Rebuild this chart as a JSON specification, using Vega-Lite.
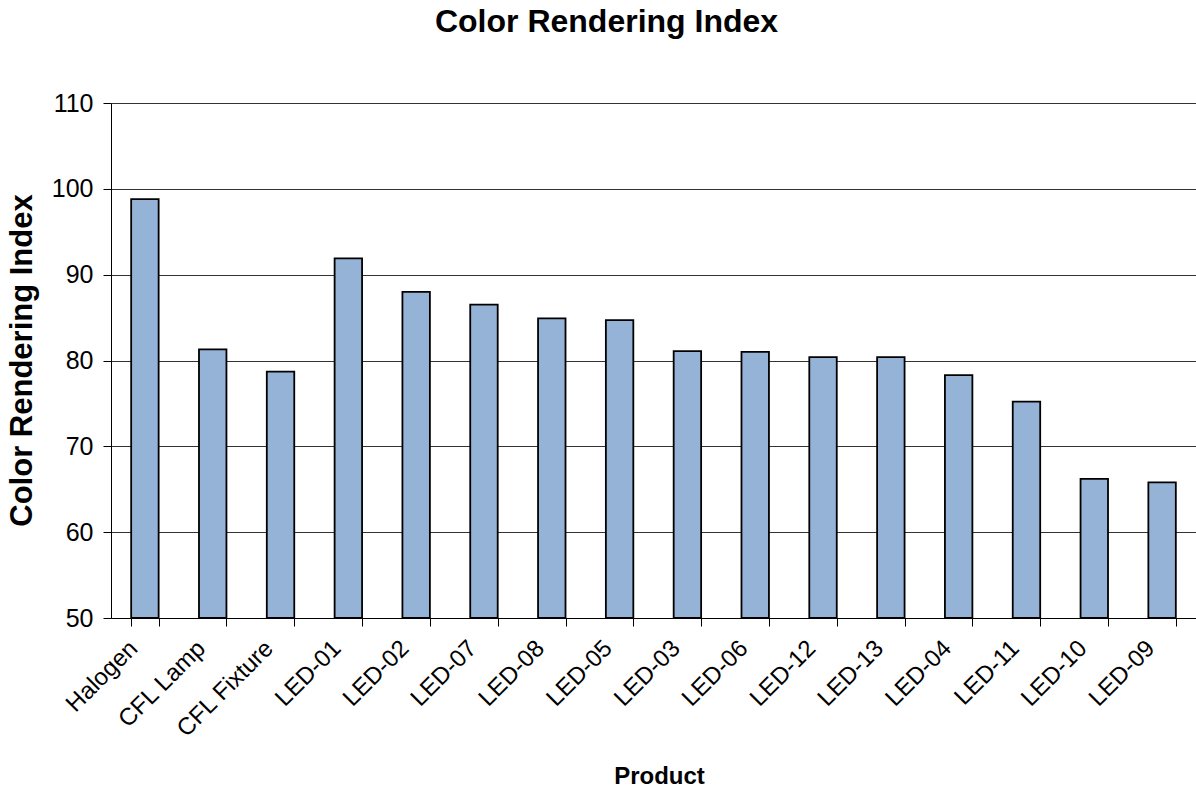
{
  "$schema": "https://vega.github.io/schema/vega-lite/v6.json",
  "width": 1085,
  "height": 515,
  "autosize": "none",
  "padding": {"left": 111, "top": 103, "right": 0, "bottom": 173},
  "background": "white",
  "config": {
    "font": "Liberation Sans",
    "view": {"stroke": null}
  },
  "title": {
    "text": "Color Rendering Index",
    "font": "Liberation Sans",
    "fontSize": 32,
    "fontWeight": "bold",
    "color": "black",
    "anchor": "middle",
    "frame": "group",
    "dx": -47,
    "baseline": "alphabetic",
    "offset": 27
  },
  "data": {
    "values": [
      {"product": "Halogen", "cri": 98.8},
      {"product": "CFL Lamp", "cri": 81.3},
      {"product": "CFL Fixture", "cri": 78.7},
      {"product": "LED-01", "cri": 91.9},
      {"product": "LED-02", "cri": 88.0},
      {"product": "LED-07", "cri": 86.5},
      {"product": "LED-08", "cri": 84.9},
      {"product": "LED-05", "cri": 84.7},
      {"product": "LED-03", "cri": 81.1},
      {"product": "LED-06", "cri": 81.0},
      {"product": "LED-12", "cri": 80.4},
      {"product": "LED-13", "cri": 80.4},
      {"product": "LED-04", "cri": 78.3},
      {"product": "LED-11", "cri": 75.2},
      {"product": "LED-10", "cri": 66.2},
      {"product": "LED-09", "cri": 65.8}
    ]
  },
  "mark": {"type": "bar", "fill": "#95B3D7", "stroke": "black", "strokeWidth": 1.8},
  "encoding": {
    "x": {
      "field": "product",
      "type": "nominal",
      "sort": null,
      "scale": {"paddingInner": 0.595, "paddingOuter": 0.2975},
      "axis": {
        "title": "Product",
        "titleFont": "Liberation Sans",
        "titleFontSize": 24,
        "titleFontWeight": "bold",
        "titleColor": "black",
        "titleX": 548,
        "titleY": 165,
        "titleBaseline": "alphabetic",
        "labelAngle": -45,
        "labelFont": "Liberation Sans",
        "labelFontSize": 24,
        "labelColor": "black",
        "labelPadding": 10,
        "labelOffset": -20,
        "tickBand": "extent",
        "tickSize": 8,
        "tickColor": "black",
        "tickWidth": 1,
        "domainColor": "black",
        "domainWidth": 1,
        "grid": false
      }
    },
    "y": {
      "field": "cri",
      "type": "quantitative",
      "scale": {"domain": [50, 110], "zero": false, "nice": false},
      "axis": {
        "title": "Color Rendering Index",
        "titleFont": "Liberation Sans",
        "titleFontSize": 31,
        "titleFontWeight": "bold",
        "titleColor": "black",
        "titleX": -89,
        "titleY": 257,
        "titleBaseline": "middle",
        "titleAngle": -90,
        "values": [50, 60, 70, 80, 90, 100, 110],
        "labelFont": "Liberation Sans",
        "labelFontSize": 25,
        "labelColor": "black",
        "labelPadding": 10,
        "tickSize": 8,
        "tickColor": "black",
        "domainColor": "black",
        "grid": true,
        "gridColor": "#333333",
        "gridWidth": 1
      }
    },
    "y2": {"datum": 50}
  }
}
